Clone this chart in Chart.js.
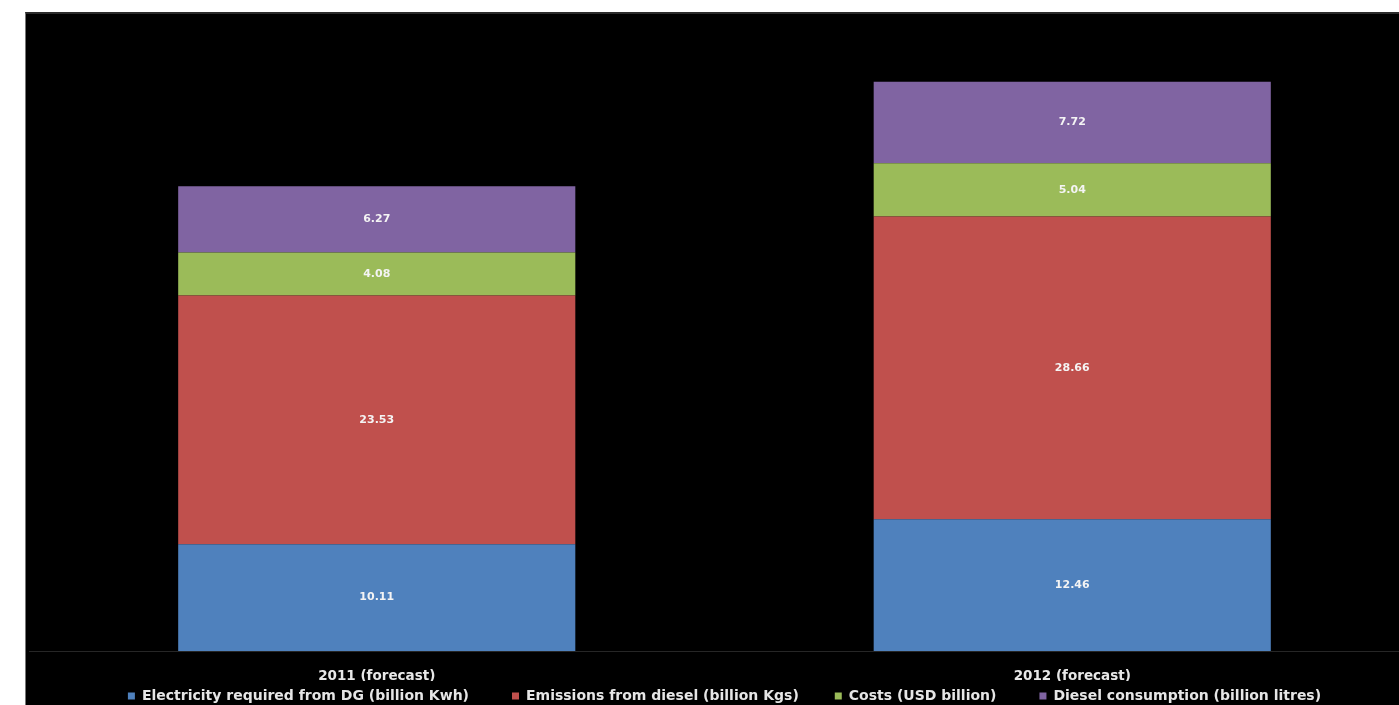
<!DOCTYPE html>
<html><head><meta charset="utf-8">
<script src="https://cdn.jsdelivr.net/npm/chart.js@4/dist/chart.umd.min.js"></script>
<style>
html,body{margin:0;padding:0;background:#fff;overflow:hidden;width:1399px;height:705px;}
#wrap{position:absolute;left:25px;top:12px;width:1374px;height:693px;background:#000;border-top:2px solid #2b2b2b;border-left:1px solid #777;box-sizing:border-box;overflow:hidden;}
#c{position:absolute;left:0;top:0;}
</style></head><body>
<div id="wrap"><canvas id="c" width="1399" height="700" style="width:1399px;height:700px"></canvas></div>
<script>
const categories = ['2011 (forecast)', '2012 (forecast)'];
const seriesNames = [
  'Electricity required from DG (billion Kwh)',
  'Emissions from diesel (billion Kgs)',
  'Costs (USD billion)',
  'Diesel consumption (billion litres)'
];
const electricity = [10.11, 12.46];
const emissions = [23.53, 28.66];
const costs = [4.08, 5.04];
const diesel = [6.27, 7.72];
const seriesColors = ['#4F81BD', '#C0504D', '#9BBB59', '#8064A2'];
const yMin = 0, yMax = 60;
// extra spacing after each legend entry (in en-spaces), imitating the source layout
const legendTrailingSpaces = [5, 4, 5, 0];

const FONT = '"DejaVu Sans", "Liberation Sans", Arial, sans-serif';
const seriesValues = [electricity, emissions, costs, diesel];

const valueLabels = {
  id: 'valueLabels',
  afterDatasetsDraw(chart) {
    const ctx = chart.ctx;
    ctx.save();
    ctx.font = 'bold 11px ' + FONT;
    ctx.fillStyle = '#f4f4f4';
    ctx.textAlign = 'center';
    ctx.textBaseline = 'middle';
    chart.data.datasets.forEach((ds, i) => {
      const meta = chart.getDatasetMeta(i);
      meta.data.forEach((bar, j) => {
        const p = bar.getProps(['x', 'y', 'base'], true);
        ctx.fillText(ds.data[j].toFixed(2), p.x, (p.y + p.base) / 2);
      });
    });
    ctx.restore();
  }
};

new Chart(document.getElementById('c'), {
  type: 'bar',
  data: {
    labels: categories,
    datasets: seriesNames.map((name, i) => ({
      label: name,
      data: seriesValues[i],
      backgroundColor: seriesColors[i],
      borderWidth: 0,
      barPercentage: 0.571,
      categoryPercentage: 1.0
    }))
  },
  options: {
    responsive: false,
    animation: false,
    devicePixelRatio: 1,
    layout: { padding: { top: 3, left: 3, right: 5, bottom: 1 } },
    scales: {
      x: {
        stacked: true,
        grid: { display: false },
        border: { display: true, color: '#262626', width: 1 },
        ticks: { color: '#e8e8e8', font: { family: FONT, size: 13.5, weight: 'bold' }, padding: 9, maxRotation: 0 },
        afterFit(scale) { scale.height = 30; }
      },
      y: { stacked: true, display: false, min: yMin, max: yMax }
    },
    plugins: {
      tooltip: { enabled: false },
      legend: {
        position: 'bottom',
        labels: {
          color: '#e6e6e6',
          font: { family: FONT, size: 14, weight: 'bold' },
          boxWidth: 7,
          boxHeight: 7,
          padding: 8,
          generateLabels(chart) {
            const items = Chart.defaults.plugins.legend.labels.generateLabels(chart);
            items.forEach((it, i) => {
              it.text += '\u2002'.repeat(legendTrailingSpaces[i] || 0);
              it.lineWidth = 0;
            });
            return items;
          }
        }
      }
    }
  },
  plugins: [valueLabels]
});
</script>
</body></html>
